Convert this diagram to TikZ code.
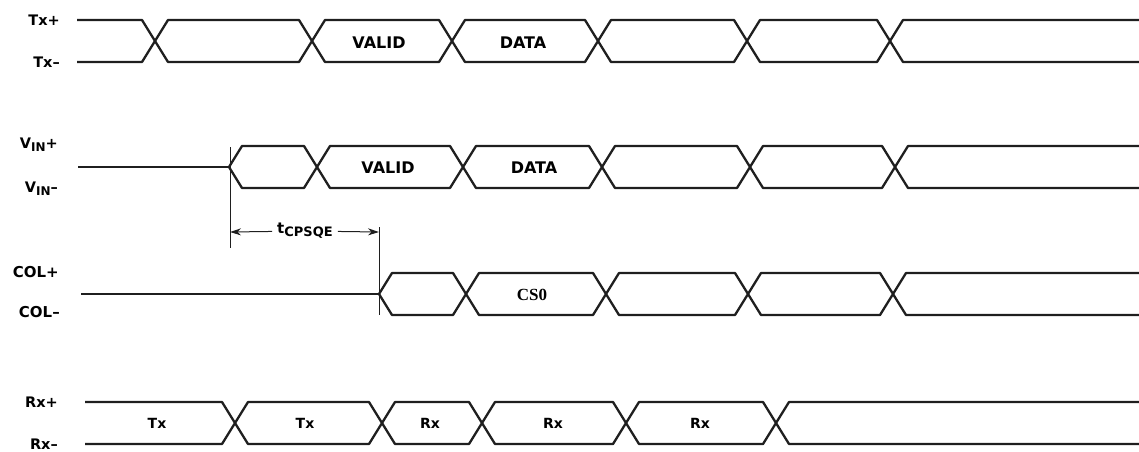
\documentclass[tikz,border=0pt]{standalone}
\usepackage{fontspec}
\setsansfont{DejaVu Sans}
\newfontfamily\csfont{Liberation Serif}
\usetikzlibrary{arrows.meta}
% lowered, smaller text for the subscripts
\newcommand{\lowpart}[2]{\raisebox{-0.35ex}{\fontsize{#1}{#1}\selectfont #2}}

\begin{document}
\begin{tikzpicture}[x=1pt,y=-1pt,
  wave/.style={line width=2.3pt, draw=black!88, line join=round},
  guide/.style={line width=1pt, draw=black!88},
  siglbl/.style={anchor=east, inner sep=0pt, font=\sffamily\bfseries\fontsize{14.5}{15}\selectfont},
  datalbl/.style={inner sep=0pt, font=\sffamily\bfseries\fontsize{16}{16}\selectfont},
  rxlbl/.style={inner sep=0pt, font=\sffamily\bfseries\fontsize{14}{14}\selectfont}]
\useasboundingbox (0,0) rectangle (1139,451);

% Tx
\node[siglbl] (txp) at (60,20) {Tx+};
\node[siglbl] (txm) at (60,62) {Tx–};
\draw[wave] (77,20) -- (142,20) -- (155,41) -- (142,62) -- (77,62);
\foreach \a/\b in {155/312,312/452,452/598,598/747,747/890}
  \draw[wave] (\a,41) -- (\a+13,20) -- (\b-13,20) -- (\b,41) -- (\b-13,62) -- (\a+13,62) -- cycle;
\draw[wave] (1139,20) -- (903,20) -- (890,41) -- (903,62) -- (1139,62);
\node[datalbl] (txvalid) at (379,43) {VALID};
\node[datalbl] (txdata) at (523,43) {DATA};

% VIN
\node[siglbl] (vinp) at (58,145) {V\lowpart{12}{IN}+};
\node[siglbl] (vinm) at (58,189) {V\lowpart{12}{IN}–};
\draw[wave] (78,167) -- (229,167);
\foreach \a/\b in {229/317,317/463,463/602,602/750,750/895}
  \draw[wave] (\a,167) -- (\a+13,146) -- (\b-13,146) -- (\b,167) -- (\b-13,188) -- (\a+13,188) -- cycle;
\draw[wave] (1139,146) -- (908,146) -- (895,167) -- (908,188) -- (1139,188);
\node[datalbl] (vinvalid) at (388,168) {VALID};
\node[datalbl] (vindata) at (534,168) {DATA};

% tCPSQE
\coordinate (tl) at (230,232);
\coordinate (tr) at (379,232);
\draw[guide] (230,147) -- (230,248);
\draw[guide] (379,227) -- (379,315);
\node[font=\sffamily\bfseries\fontsize{15}{15}\selectfont, inner sep=5pt] (tcp) at (305,231) {t\lowpart{13}{CPSQE}};
\draw[guide,-{Stealth[length=11pt,width=7pt]}] (tcp) -- (tl);
\draw[guide,-{Stealth[length=11pt,width=7pt]}] (tcp) -- (tr);

% COL
\node[siglbl, font=\sffamily\bfseries\fontsize{15}{15}\selectfont] (colp) at (59,272) {COL+};
\node[siglbl, font=\sffamily\bfseries\fontsize{15}{15}\selectfont] (colm) at (60,312) {COL–};
\draw[wave] (81,294) -- (379,294);
\foreach \a/\b in {379/466,466/606,606/748,748/893}
  \draw[wave] (\a,294) -- (\a+13,273) -- (\b-13,273) -- (\b,294) -- (\b-13,315) -- (\a+13,315) -- cycle;
\draw[wave] (1139,273) -- (906,273) -- (893,294) -- (906,315) -- (1139,315);
\node[datalbl, font=\csfont\bfseries\fontsize{17}{17}\selectfont] (cs) at (532,295) {CS0};

% Rx
\node[siglbl] (rxp) at (58,402) {Rx+};
\node[siglbl] (rxm) at (58,444) {Rx–};
\draw[wave] (85,402) -- (222,402) -- (235,423) -- (222,444) -- (85,444);
\foreach \a/\b in {235/382,382/482,482/626,626/776}
  \draw[wave] (\a,423) -- (\a+13,402) -- (\b-13,402) -- (\b,423) -- (\b-13,444) -- (\a+13,444) -- cycle;
\draw[wave] (1139,402) -- (789,402) -- (776,423) -- (789,444) -- (1139,444);
\node[rxlbl] (rx1) at (157,423) {Tx};
\node[rxlbl] (rx2) at (305,423) {Tx};
\node[rxlbl] (rx3) at (430,423) {Rx};
\node[rxlbl] (rx4) at (553,423) {Rx};
\node[rxlbl] (rx5) at (700,423) {Rx};
\end{tikzpicture}
\end{document}
